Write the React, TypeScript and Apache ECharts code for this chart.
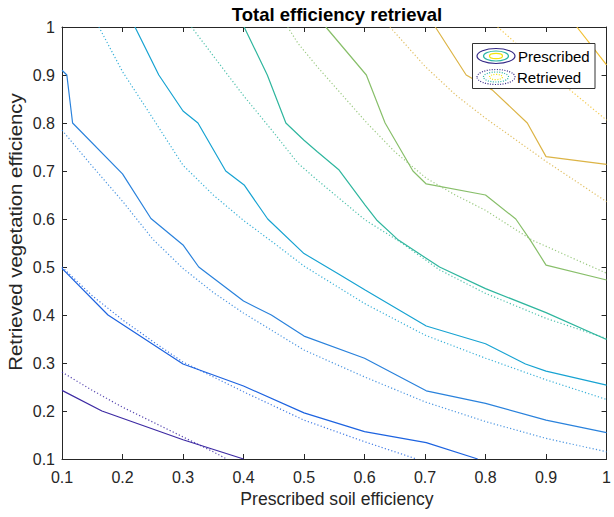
import React, { useEffect, useRef } from "react";
import * as echarts from "echarts";

// Contour lines of the prescribed (solid) and retrieved (dotted) total efficiency
// each point: [prescribed soil efficiency, retrieved vegetation efficiency]
const prescribed1 = [[0.1, 0.243], [0.166, 0.2], [0.3, 0.14], [0.4, 0.1]];
const prescribed2 = [[0.1, 0.497], [0.176, 0.4], [0.3, 0.298], [0.4, 0.252], [0.5, 0.196], [0.6, 0.157], [0.702, 0.134], [0.787, 0.1]];
const prescribed3 = [[0.1, 0.91], [0.108, 0.9], [0.1175, 0.8], [0.2, 0.694], [0.247, 0.601], [0.3, 0.546], [0.326, 0.5], [0.4, 0.429], [0.446, 0.4], [0.5, 0.356], [0.6, 0.31], [0.702, 0.242], [0.8, 0.216], [0.9, 0.181], [1, 0.155]];
const prescribed4 = [[0.2206, 1], [0.26, 0.9], [0.3, 0.825], [0.3247, 0.8], [0.3706, 0.7], [0.401, 0.671], [0.44, 0.6], [0.5, 0.528], [0.555, 0.487], [0.601, 0.452], [0.702, 0.377], [0.8, 0.34], [0.866, 0.298], [0.9, 0.283], [1, 0.254]];
const prescribed5 = [[0.401, 1], [0.4393, 0.9], [0.47, 0.8], [0.5, 0.764], [0.522, 0.74], [0.558, 0.702], [0.601, 0.629], [0.62, 0.598], [0.656, 0.556], [0.724, 0.5], [0.8, 0.455], [0.9, 0.405], [1, 0.349]];
const prescribed6 = [[0.536, 1], [0.603, 0.9], [0.634, 0.8], [0.68, 0.7], [0.702, 0.673], [0.8, 0.65], [0.85, 0.6], [0.874, 0.556], [0.9, 0.504], [1, 0.473]];
const prescribed7 = [[0.717, 1], [0.768, 0.9], [0.811, 0.869], [0.869, 0.8], [0.9, 0.73], [1, 0.714]];
const prescribed8 = [[0.951, 1], [1, 0.921]];

const retrieved1 = [[0.1, 0.281], [0.15, 0.243], [0.2, 0.208], [0.25, 0.177], [0.3, 0.146], [0.35, 0.115], [0.372, 0.1]];
const retrieved2 = [[0.1, 0.5], [0.15, 0.44], [0.2, 0.39], [0.25, 0.345], [0.3, 0.302], [0.4, 0.24], [0.5, 0.181], [0.6, 0.136], [0.686, 0.1]];
const retrieved3 = [[0.1, 0.785], [0.15, 0.71], [0.2, 0.637], [0.25, 0.558], [0.3, 0.497], [0.35, 0.447], [0.4, 0.404], [0.5, 0.327], [0.6, 0.271], [0.7, 0.219], [0.8, 0.178], [0.9, 0.143], [1, 0.115]];
const retrieved4 = [[0.161, 1], [0.2, 0.907], [0.25, 0.81], [0.3, 0.712], [0.35, 0.65], [0.4, 0.597], [0.45, 0.55], [0.5, 0.502], [0.6, 0.424], [0.7, 0.358], [0.8, 0.31], [0.9, 0.265], [1, 0.224]];
const retrieved5 = [[0.314, 1], [0.35, 0.94], [0.4, 0.857], [0.45, 0.78], [0.49, 0.716], [0.522, 0.681], [0.601, 0.598], [0.658, 0.553], [0.724, 0.494], [0.8, 0.445], [0.9, 0.393], [1, 0.351]];
const retrieved6 = [[0.473, 1], [0.49, 0.966], [0.522, 0.917], [0.604, 0.8], [0.65, 0.74], [0.702, 0.685], [0.75, 0.65], [0.8, 0.618], [0.877, 0.556], [0.95, 0.515], [1, 0.487]];
const retrieved7 = [[0.642, 1], [0.7, 0.918], [0.751, 0.858], [0.8, 0.81], [0.9, 0.72], [1, 0.636]];
const retrieved8 = [[0.82, 1], [0.9, 0.91], [1, 0.806]];

const prescribedLines = [prescribed1, prescribed2, prescribed3, prescribed4, prescribed5, prescribed6, prescribed7, prescribed8];
const retrievedLines = [retrieved1, retrieved2, retrieved3, retrieved4, retrieved5, retrieved6, retrieved7, retrieved8];

const levelColors = ["#3d2aa3", "#1d63e0", "#2a82dc", "#17a3d2", "#2fb69e", "#88bf6a", "#dcb446", "#f2bf2e"];

const titleText = "Total efficiency retrieval";
const xLabel = "Prescribed soil efficiency";
const yLabel = "Retrieved vegetation efficiency";
const legendNames = ["Prescribed", "Retrieved"];

const FONT = "'Liberation Sans', Arial, Helvetica, sans-serif";
const INK = "#262626";

export default function App() {
  const ref = useRef<HTMLDivElement>(null);

  useEffect(() => {
    if (!ref.current) return;
    const chart = echarts.init(ref.current, undefined, { renderer: "svg" });

    const series: any[] = [];
    retrievedLines.forEach((d, i) => {
      series.push({
        name: legendNames[1],
        type: "line",
        data: d,
        showSymbol: false,
        symbol: "none",
        silent: true,
        lineStyle: { color: levelColors[i], width: 1.2, type: [1.2, 2.2], opacity: 0.85 },
        z: 2,
      });
    });
    prescribedLines.forEach((d, i) => {
      series.push({
        name: legendNames[0],
        type: "line",
        data: d,
        showSymbol: false,
        symbol: "none",
        silent: true,
        lineStyle: { color: levelColors[i], width: 1.2, type: "solid" },
        z: 3,
      });
    });

    const axisCommon = {
      type: "value",
      min: 0.1,
      max: 1,
      interval: 0.1,
      splitLine: { show: false },
      axisLine: { show: true, onZero: false, lineStyle: { color: INK, width: 1 } },
      axisTick: { show: true, inside: true, length: 5, lineStyle: { color: INK } },
    };

    const cx = 496;
    const legendEllipses = (cy: number, dashed: boolean) => {
      const dash = dashed ? [1, 1.5] : null;
      return [
        { rx: 19, ry: 7.5, color: "#352a87" },
        { rx: 12.5, ry: 5, color: "#2bb5a5" },
        { rx: 6.5, ry: 2.6, color: "#f2e40e" },
      ].map((e) => ({
        type: "ellipse",
        shape: { cx, cy, rx: e.rx, ry: e.ry },
        style: { fill: "none", stroke: e.color, lineWidth: 1.2, lineDash: dash },
        z: 101,
      }));
    };

    chart.setOption({
      animation: false,
      backgroundColor: "#ffffff",
      grid: { left: 62, right: 2, top: 27, bottom: 58, containLabel: false },
      xAxis: [
        {
          ...axisCommon,
          position: "bottom",
          axisLabel: { show: true, color: INK, fontSize: 16, fontFamily: FONT, margin: 10 },
        },
        {
          ...axisCommon,
          position: "top",
          axisLabel: { show: false },
        },
      ],
      yAxis: [
        {
          ...axisCommon,
          position: "left",
          axisLabel: { show: true, color: INK, fontSize: 16, fontFamily: FONT, margin: 7 },
        },
        {
          ...axisCommon,
          position: "right",
          axisLabel: { show: false },
        },
      ],
      series,
      graphic: [
        {
          type: "text",
          x: 337,
          y: 14,
          z: 100,
          style: {
            text: titleText,
            fill: "#000000",
            font: `bold 18.5px ${FONT}`,
            align: "center",
            verticalAlign: "middle",
          },
        },
        {
          type: "text",
          x: 337,
          y: 499,
          z: 100,
          style: {
            text: xLabel,
            fill: INK,
            font: `17.6px ${FONT}`,
            align: "center",
            verticalAlign: "middle",
          },
        },
        {
          type: "text",
          x: 16,
          y: 232,
          rotation: Math.PI / 2,
          scaleX: 1.16,
          z: 100,
          style: {
            text: yLabel,
            fill: INK,
            font: `17.6px ${FONT}`,
            align: "center",
            verticalAlign: "middle",
          },
        },
        {
          type: "rect",
          shape: { x: 472.5, y: 43.5, width: 122.5, height: 45 },
          style: { fill: "#ffffff", stroke: "#333333", lineWidth: 1 },
          z: 100,
        },
        ...legendEllipses(56, false),
        ...legendEllipses(77, true),
        {
          type: "text",
          x: 518,
          y: 56,
          z: 101,
          style: { text: legendNames[0], fill: "#000000", font: `15px ${FONT}`, align: "left", verticalAlign: "middle" },
        },
        {
          type: "text",
          x: 517,
          y: 77,
          z: 101,
          style: { text: legendNames[1], fill: "#000000", font: `15px ${FONT}`, align: "left", verticalAlign: "middle" },
        },
      ],
    });

    return () => {
      chart.dispose();
    };
  }, []);

  return (
    <div
      ref={ref}
      style={{ position: "absolute", left: 0, top: 0, width: 614, height: 517, background: "#fff" }}
    />
  );
}
